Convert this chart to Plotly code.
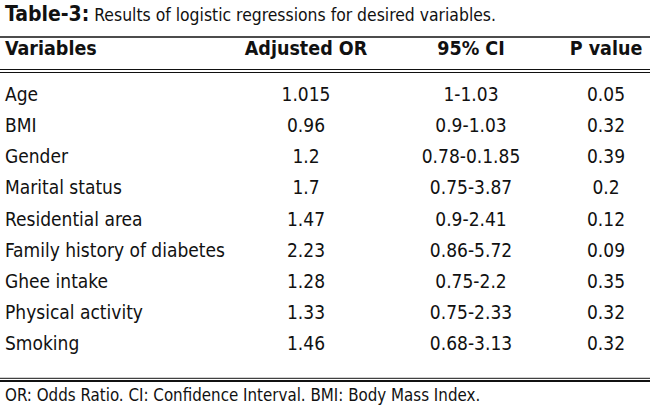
import plotly.graph_objects as go

variables = ["Age", "BMI", "Gender", "Marital status", "Residential area",
             "Family history of diabetes", "Ghee intake", "Physical activity", "Smoking"]
adjusted_or = ["1.015", "0.96", "1.2", "1.7", "1.47", "2.23", "1.28", "1.33", "1.46"]
ci_95 = ["1-1.03", "0.9-1.03", "0.78-0.1.85", "0.75-3.87", "0.9-2.41",
         "0.86-5.72", "0.75-2.2", "0.75-2.33", "0.68-3.13"]
p_value = ["0.05", "0.32", "0.39", "0.2", "0.12", "0.09", "0.35", "0.32", "0.32"]
headers = ["Variables", "Adjusted OR", "95% CI", "P value"]

title_bold = "Table-3:"
title_text = "Results of logistic regressions for desired variables."
footer = "OR: Odds Ratio. CI: Confidence Interval. BMI: Body Mass Index."

FONT = "DejaVu Sans Condensed, Liberation Sans Narrow, sans-serif"
INK = "#111111"

# pixel-like layout: x = column position, y = row position (top down)
col_x = [5, 306, 471, 606]
header_y = 50
row_y = [96 + 31.2 * i for i in range(len(variables))]

fig = go.Figure()

columns = [variables, adjusted_or, ci_95, p_value]
for i, col in enumerate(columns):
    fig.add_trace(go.Scatter(
        x=[col_x[i]] * len(col), y=row_y, text=col, mode="text",
        textposition="middle right" if i == 0 else "middle center",
        textfont=dict(family=FONT, size=19, color=INK),
        hoverinfo="skip", showlegend=False))

fig.add_trace(go.Scatter(
    x=col_x, y=[header_y] * 4, text=["<b>%s</b>" % h for h in headers], mode="text",
    textposition=["middle right", "middle center", "middle center", "middle center"],
    textfont=dict(family=FONT, size=19.5, color=INK),
    hoverinfo="skip", showlegend=False))

fig.add_annotation(x=3, y=14, xref="x", yref="y", xanchor="left", yanchor="middle",
                   text="<b><span style='font-size:21px'>%s</span></b> %s" % (title_bold, title_text),
                   showarrow=False, font=dict(family=FONT, size=17.4, color=INK))
fig.add_annotation(x=3, y=395, xref="x", yref="y", xanchor="left", yanchor="middle",
                   text=footer, showarrow=False,
                   font=dict(family=FONT, size=16.8, color=INK))

# horizontal rules
for y, w in [(37, 1.6), (69.5, 1.2), (72.5, 1.2), (378.3, 1), (381, 1.8)]:
    fig.add_shape(type="line", xref="paper", yref="y", x0=0, x1=1, y0=y, y1=y,
                  line=dict(color=INK, width=w))

fig.update_layout(
    width=650, height=413,
    margin=dict(l=0, r=0, t=0, b=0),
    paper_bgcolor="white", plot_bgcolor="white",
    xaxis=dict(range=[0, 650], visible=False, fixedrange=True),
    yaxis=dict(range=[413, 0], visible=False, fixedrange=True),
)

fig.write_html("out.html", config={"displayModeBar": False},
               post_script="document.body.style.margin='0px';")
